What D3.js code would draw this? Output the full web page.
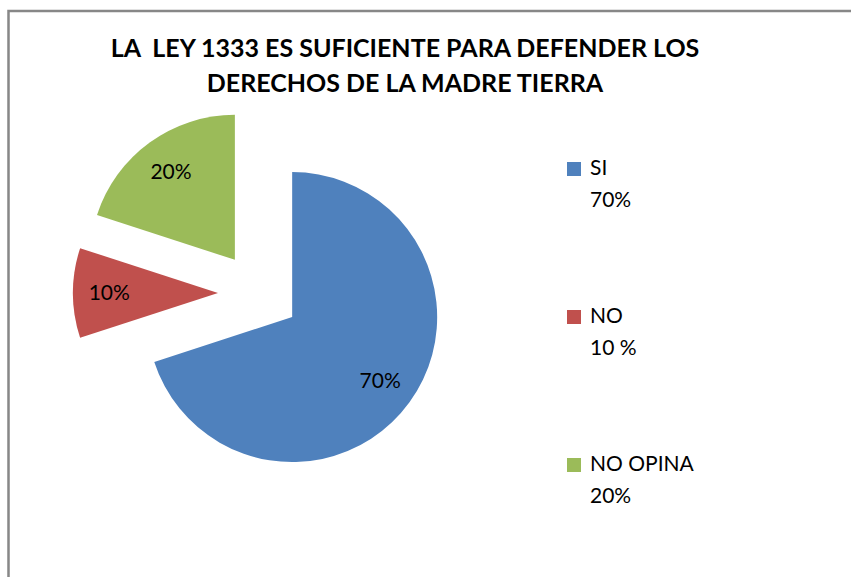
<!DOCTYPE html>
<html>
<head>
<meta charset="utf-8">
<script src="https://cdn.jsdelivr.net/npm/d3@7"></script>
<style>
  body { margin: 0; background: #fff; }
  text { font-family: Lato, "Open Sans", sans-serif; white-space: pre; }
</style>
</head>
<body>
<div id="container"></div>
<script>
let w = 851;
let h = 577;

// chart values
let categories = ["SI", "NO", "NO OPINA"];
let values = [70, 10, 20];
let sliceLabels = ["70%", "10%", "20%"];
let legendValues = ["70%", "10 %", "20%"];
let colors = ["#4f81bd", "#c0504d", "#9bbb59"];
let titleLines = ["LA  LEY 1333 ES SUFICIENTE PARA DEFENDER LOS", "DERECHOS DE LA MADRE TIERRA"];

let viz = d3.select("#container")
  .append("svg")
    .attr("width", w)
    .attr("height", h)
    .style("background-color", "#ffffff");

// chart frame (runs off the right and bottom edges)
viz.append("rect")
  .attr("x", 8.5)
  .attr("y", 11)
  .attr("width", w + 20)
  .attr("height", h + 20)
  .attr("fill", "none")
  .attr("stroke", "#878787")
  .attr("stroke-width", 2.5);

// title
let title = viz.append("g").attr("class", "title");
title.selectAll("text")
  .data(titleLines)
  .enter()
  .append("text")
    .attr("x", 405)
    .attr("y", function(d, i){ return 57 + i * 35; })
    .attr("text-anchor", "middle")
    .attr("font-weight", "bold")
    .attr("font-size", 25)
    .attr("fill", "#000")
    .text(function(d){ return d; });

// pie
let cx = 259, cy = 293;
let radius = 145;
let explode = 41;

let pie = d3.pie().sort(null).value(function(d){ return d; });
let arc = d3.arc().innerRadius(0).outerRadius(radius);
let labelArc = d3.arc().innerRadius(radius * 0.75).outerRadius(radius * 0.75);

let pieGroup = viz.append("g").attr("transform", "translate(" + cx + "," + cy + ")");

let slices = pieGroup.selectAll(".slice")
  .data(pie(values))
  .enter()
  .append("g")
    .attr("class", "slice")
    .attr("transform", function(d){
      let a = (d.startAngle + d.endAngle) / 2;
      return "translate(" + (Math.sin(a) * explode) + "," + (-Math.cos(a) * explode) + ")";
    });

slices.append("path")
  .attr("d", arc)
  .attr("fill", function(d, i){ return colors[i]; });

slices.append("text")
  .attr("transform", function(d){
    let p = labelArc.centroid(d);
    return "translate(" + p[0] + "," + p[1] + ")";
  })
  .attr("text-anchor", "middle")
  .attr("dy", "0.35em")
  .attr("font-size", 21)
  .attr("fill", "#000")
  .text(function(d, i){ return sliceLabels[i]; });

// legend
let legend = viz.append("g").attr("class", "legend");
let items = legend.selectAll(".item")
  .data(categories)
  .enter()
  .append("g")
    .attr("class", "item")
    .attr("transform", function(d, i){ return "translate(567," + (162 + i * 148) + ")"; });

items.append("rect")
  .attr("width", 14)
  .attr("height", 14)
  .attr("fill", function(d, i){ return colors[i]; });

items.append("text")
  .attr("x", 23)
  .attr("y", 13)
  .attr("font-size", 21)
  .attr("fill", "#000")
  .text(function(d){ return d; });

items.append("text")
  .attr("x", 23)
  .attr("y", 45)
  .attr("font-size", 21)
  .attr("fill", "#000")
  .text(function(d, i){ return legendValues[i]; });
</script>
</body>
</html>
